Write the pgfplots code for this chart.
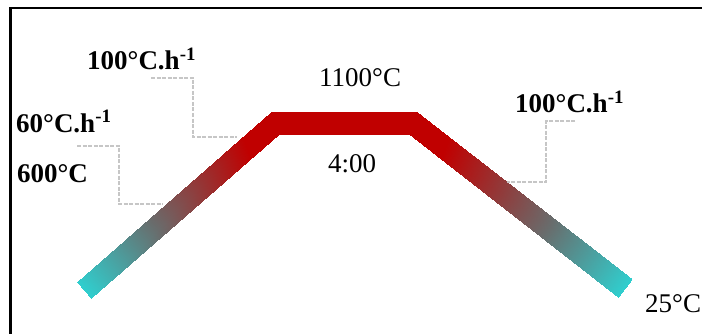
\documentclass[border=0pt]{standalone}
\usepackage{fontspec}
\setmainfont{Liberation Serif}
\usepackage{pgfplots}
\pgfplotsset{compat=1.18}
\usepgfplotslibrary{patchplots}
\pgfplotsset{
  colormap={band}{rgb255(0pt)=(48,206,206) rgb255(37pt)=(105,108,108) rgb255(85pt)=(192,0,0) rgb255(100pt)=(192,0,0)}
}
\begin{document}
\begin{tikzpicture}
\begin{axis}[
  at={(0,0)}, anchor=south west,
  scale only axis, width=702pt, height=334pt,
  xmin=0, xmax=702, ymin=0, ymax=334, y dir=reverse,
  hide axis, clip=false,
  colormap name=band, point meta min=0, point meta max=1,
]
% frame
\addplot[black, line width=2.6pt, line join=miter] coordinates {(10.5,420) (10.5,8) (800,8)};
% heating/cooling band
\addplot[patch, patch type=rectangle, shader=interp, point meta=explicit]
  table[meta=c] {
x y c
76.8 281.7 0
91.2 298.3 0
279.1 134 1
270.9 112 1
270.9 112 1
279.1 134 1
409.2 134 1
416.8 112 1
416.8 112 1
409.2 134 1
618.2 296.7 0
631.8 279.3 0
};
% leader lines
\addplot[gray!45, line width=1.8pt, dash pattern=on 4pt off 1.5pt] coordinates {(151,78) (193,78) (193,137) (237,137)};
\addplot[gray!45, line width=1.8pt, dash pattern=on 4pt off 1.5pt] coordinates {(77,146) (119,146) (119,204) (163,204)};
\addplot[gray!45, line width=1.8pt, dash pattern=on 4pt off 1.5pt] coordinates {(575,121) (546,121) (546,182) (507,182)};
% labels
\tikzset{lbl/.style={anchor=base west, inner sep=0pt, font=\fontsize{27}{30}\selectfont}}
\node[lbl] at (axis cs:87,70) {\textbf{100°C.h\textsuperscript{-1}}};
\node[lbl] at (axis cs:16,132) {\textbf{60°C.h\textsuperscript{-1}}};
\node[lbl] at (axis cs:17,182) {\textbf{600°C}};
\node[lbl] at (axis cs:319,87) {1100°C};
\node[lbl] at (axis cs:328,172) {4:00};
\node[lbl] at (axis cs:515,113) {\textbf{100°C.h\textsuperscript{-1}}};
\node[lbl] at (axis cs:645,312) {25°C};
\end{axis}
\pgfresetboundingbox
\path[use as bounding box] (0,0) rectangle (702pt,334pt);
\end{tikzpicture}
\end{document}
